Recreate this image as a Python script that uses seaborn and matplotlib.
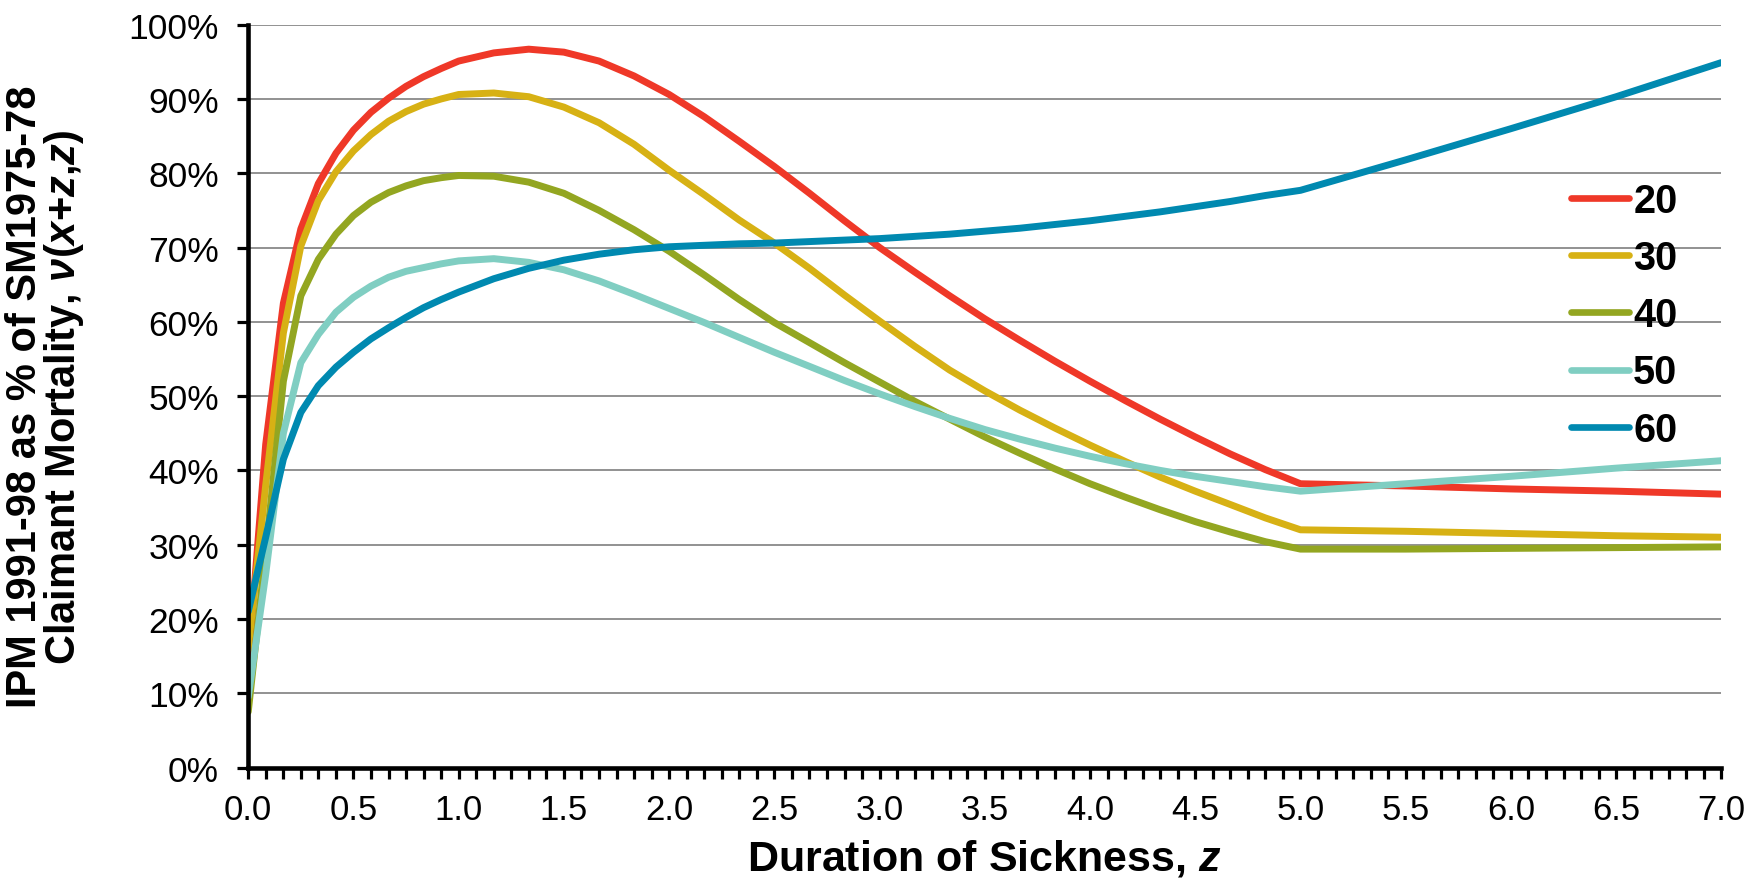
import matplotlib
matplotlib.use("Agg")
import matplotlib.pyplot as plt
from matplotlib.ticker import MultipleLocator, PercentFormatter, FormatStrFormatter
import pandas as pd
import seaborn as sns

# Duration of sickness z (years): monthly in year one, every two months to year five, then half-yearly
duration = [0.0, 0.083, 0.167, 0.25, 0.333, 0.417, 0.5, 0.583, 0.667, 0.75, 0.833, 0.917,
            1.0, 1.167, 1.333, 1.5, 1.667, 1.833, 2.0, 2.167, 2.333, 2.5, 2.667, 2.833,
            3.0, 3.167, 3.333, 3.5, 3.667, 3.833, 4.0, 4.167, 4.333, 4.5, 4.667, 4.833,
            5.0, 5.5, 6.0, 6.5, 7.0]

# IPM 1991-98 claimant mortality as % of SM1975-78, by age at onset
age20 = [14.0, 43.5, 62.5, 72.5, 78.6, 82.7, 85.8, 88.2, 90.1, 91.7, 93.0, 94.1,
         95.1, 96.2, 96.7, 96.3, 95.1, 93.1, 90.6, 87.6, 84.3, 80.9, 77.3, 73.6,
         70.0, 66.7, 63.5, 60.4, 57.5, 54.7, 52.0, 49.4, 46.9, 44.5, 42.2, 40.1,
         38.2, 37.9, 37.5, 37.2, 36.8]
age30 = [16.0, 38.0, 58.5, 70.2, 76.3, 80.2, 83.0, 85.2, 87.0, 88.3, 89.3, 90.0,
         90.6, 90.8, 90.3, 88.9, 86.8, 83.9, 80.4, 77.1, 73.7, 70.6, 67.2, 63.6,
         60.1, 56.7, 53.5, 50.7, 48.1, 45.7, 43.4, 41.2, 39.1, 37.2, 35.4, 33.6,
         32.0, 31.8, 31.5, 31.2, 31.0]
age40 = [7.5, 29.0, 52.0, 63.5, 68.4, 71.8, 74.3, 76.1, 77.4, 78.3, 79.0, 79.4,
         79.7, 79.6, 78.8, 77.3, 75.0, 72.4, 69.5, 66.3, 63.0, 59.9, 57.2, 54.5,
         51.9, 49.3, 46.9, 44.5, 42.3, 40.2, 38.2, 36.4, 34.7, 33.1, 31.7, 30.4,
         29.4, 29.4, 29.5, 29.6, 29.7]
age50 = [9.5, 26.0, 45.0, 54.5, 58.3, 61.3, 63.3, 64.8, 66.0, 66.8, 67.3, 67.8,
         68.2, 68.5, 68.0, 67.0, 65.5, 63.7, 61.8, 59.9, 57.9, 55.9, 54.0, 52.1,
         50.3, 48.6, 47.0, 45.5, 44.2, 43.0, 41.9, 40.9, 40.0, 39.2, 38.5, 37.8,
         37.2, 38.2, 39.2, 40.3, 41.3]
age60 = [21.0, 31.0, 41.5, 47.8, 51.4, 53.9, 55.9, 57.7, 59.2, 60.6, 61.9, 63.0,
         64.0, 65.8, 67.2, 68.3, 69.1, 69.7, 70.1, 70.3, 70.5, 70.6, 70.8, 71.0,
         71.2, 71.5, 71.8, 72.2, 72.6, 73.1, 73.6, 74.2, 74.8, 75.5, 76.2, 77.0,
         77.7, 81.8, 86.0, 90.3, 94.9]

ages = ["20", "30", "40", "50", "60"]
colors = ["#EF3828", "#D7B114", "#93A621", "#80CEC2", "#0089B0"]

frames = []
for label, values in zip(ages, [age20, age30, age40, age50, age60]):
    frames.append(pd.DataFrame({"z": duration, "ratio": values, "age": label}))
df = pd.concat(frames, ignore_index=True)

sns.set_style("white")
plt.rcParams["font.family"] = ["Liberation Sans", "DejaVu Sans"]
plt.rcParams["text.color"] = "black"
plt.rcParams["axes.labelcolor"] = "black"
plt.rcParams["xtick.color"] = "black"
plt.rcParams["ytick.color"] = "black"
plt.rcParams["mathtext.fontset"] = "custom"
plt.rcParams["mathtext.rm"] = "Liberation Sans:bold"
plt.rcParams["mathtext.bf"] = "Liberation Sans:bold"
plt.rcParams["mathtext.it"] = "Liberation Sans:italic:bold"

fig = plt.figure(figsize=(17.63, 8.79), dpi=100)
ax = fig.add_axes([0.1408, 0.1257, 0.8356, 0.8451])

sns.lineplot(data=df, x="z", y="ratio", hue="age", hue_order=ages,
             palette=dict(zip(ages, colors)), linewidth=5.0, sort=False,
             errorbar=None, ax=ax)
for line in ax.get_lines():
    line.set_solid_joinstyle("round")

ax.set_xlim(0, 7)
ax.set_ylim(0, 100)
ax.xaxis.set_major_locator(MultipleLocator(0.5))
ax.xaxis.set_minor_locator(MultipleLocator(1 / 12))
ax.xaxis.set_major_formatter(FormatStrFormatter("%.1f"))
ax.yaxis.set_major_locator(MultipleLocator(10))
ax.yaxis.set_major_formatter(PercentFormatter(xmax=100, decimals=0))

ax.set_axisbelow(True)
ax.yaxis.grid(True, color="#898989", linewidth=1.3)
ax.xaxis.grid(False)

for side in ["top", "right"]:
    ax.spines[side].set_visible(False)
for side in ["left", "bottom"]:
    ax.spines[side].set_color("black")
    ax.spines[side].set_linewidth(3.3)

ax.tick_params(axis="y", which="major", direction="out", length=8, width=2.3,
               color="black", labelcolor="black", labelsize=25.5, pad=13, left=True)
ax.tick_params(axis="x", which="both", direction="out", length=8, width=2.3,
               color="black", bottom=True)
ax.tick_params(axis="x", which="major", labelsize=25, labelcolor="black", pad=10)

ax.set_xlabel("Duration of Sickness, $\\mathit{z}$", fontsize=31, fontweight="bold")
ax.xaxis.set_label_coords(0.5, -0.094)
ax.set_ylabel("IPM 1991-98 as % of SM1975-78\nClaimant Mortality, $\\mathit{\\nu(x{+}z{,}z)}$",
              fontsize=30, fontweight="bold", linespacing=0.9)
ax.yaxis.set_label_coords(-0.11, 0.5)

handles, labels = ax.get_legend_handles_labels()
leg = ax.legend(handles, labels, loc="center left",
                bbox_to_anchor=(1571 / 1763, 1 - 316.2 / 879),
                bbox_transform=fig.transFigure, frameon=False,
                prop={"family": "Liberation Sans", "weight": "bold", "size": 28.5},
                handlelength=1.47, handletextpad=0.1, labelspacing=0.486,
                borderpad=0, borderaxespad=0)
for line in leg.get_lines():
    line.set_linewidth(4.8)
    line.set_solid_capstyle("round")

fig.savefig("out.png", dpi=100, facecolor="white")
